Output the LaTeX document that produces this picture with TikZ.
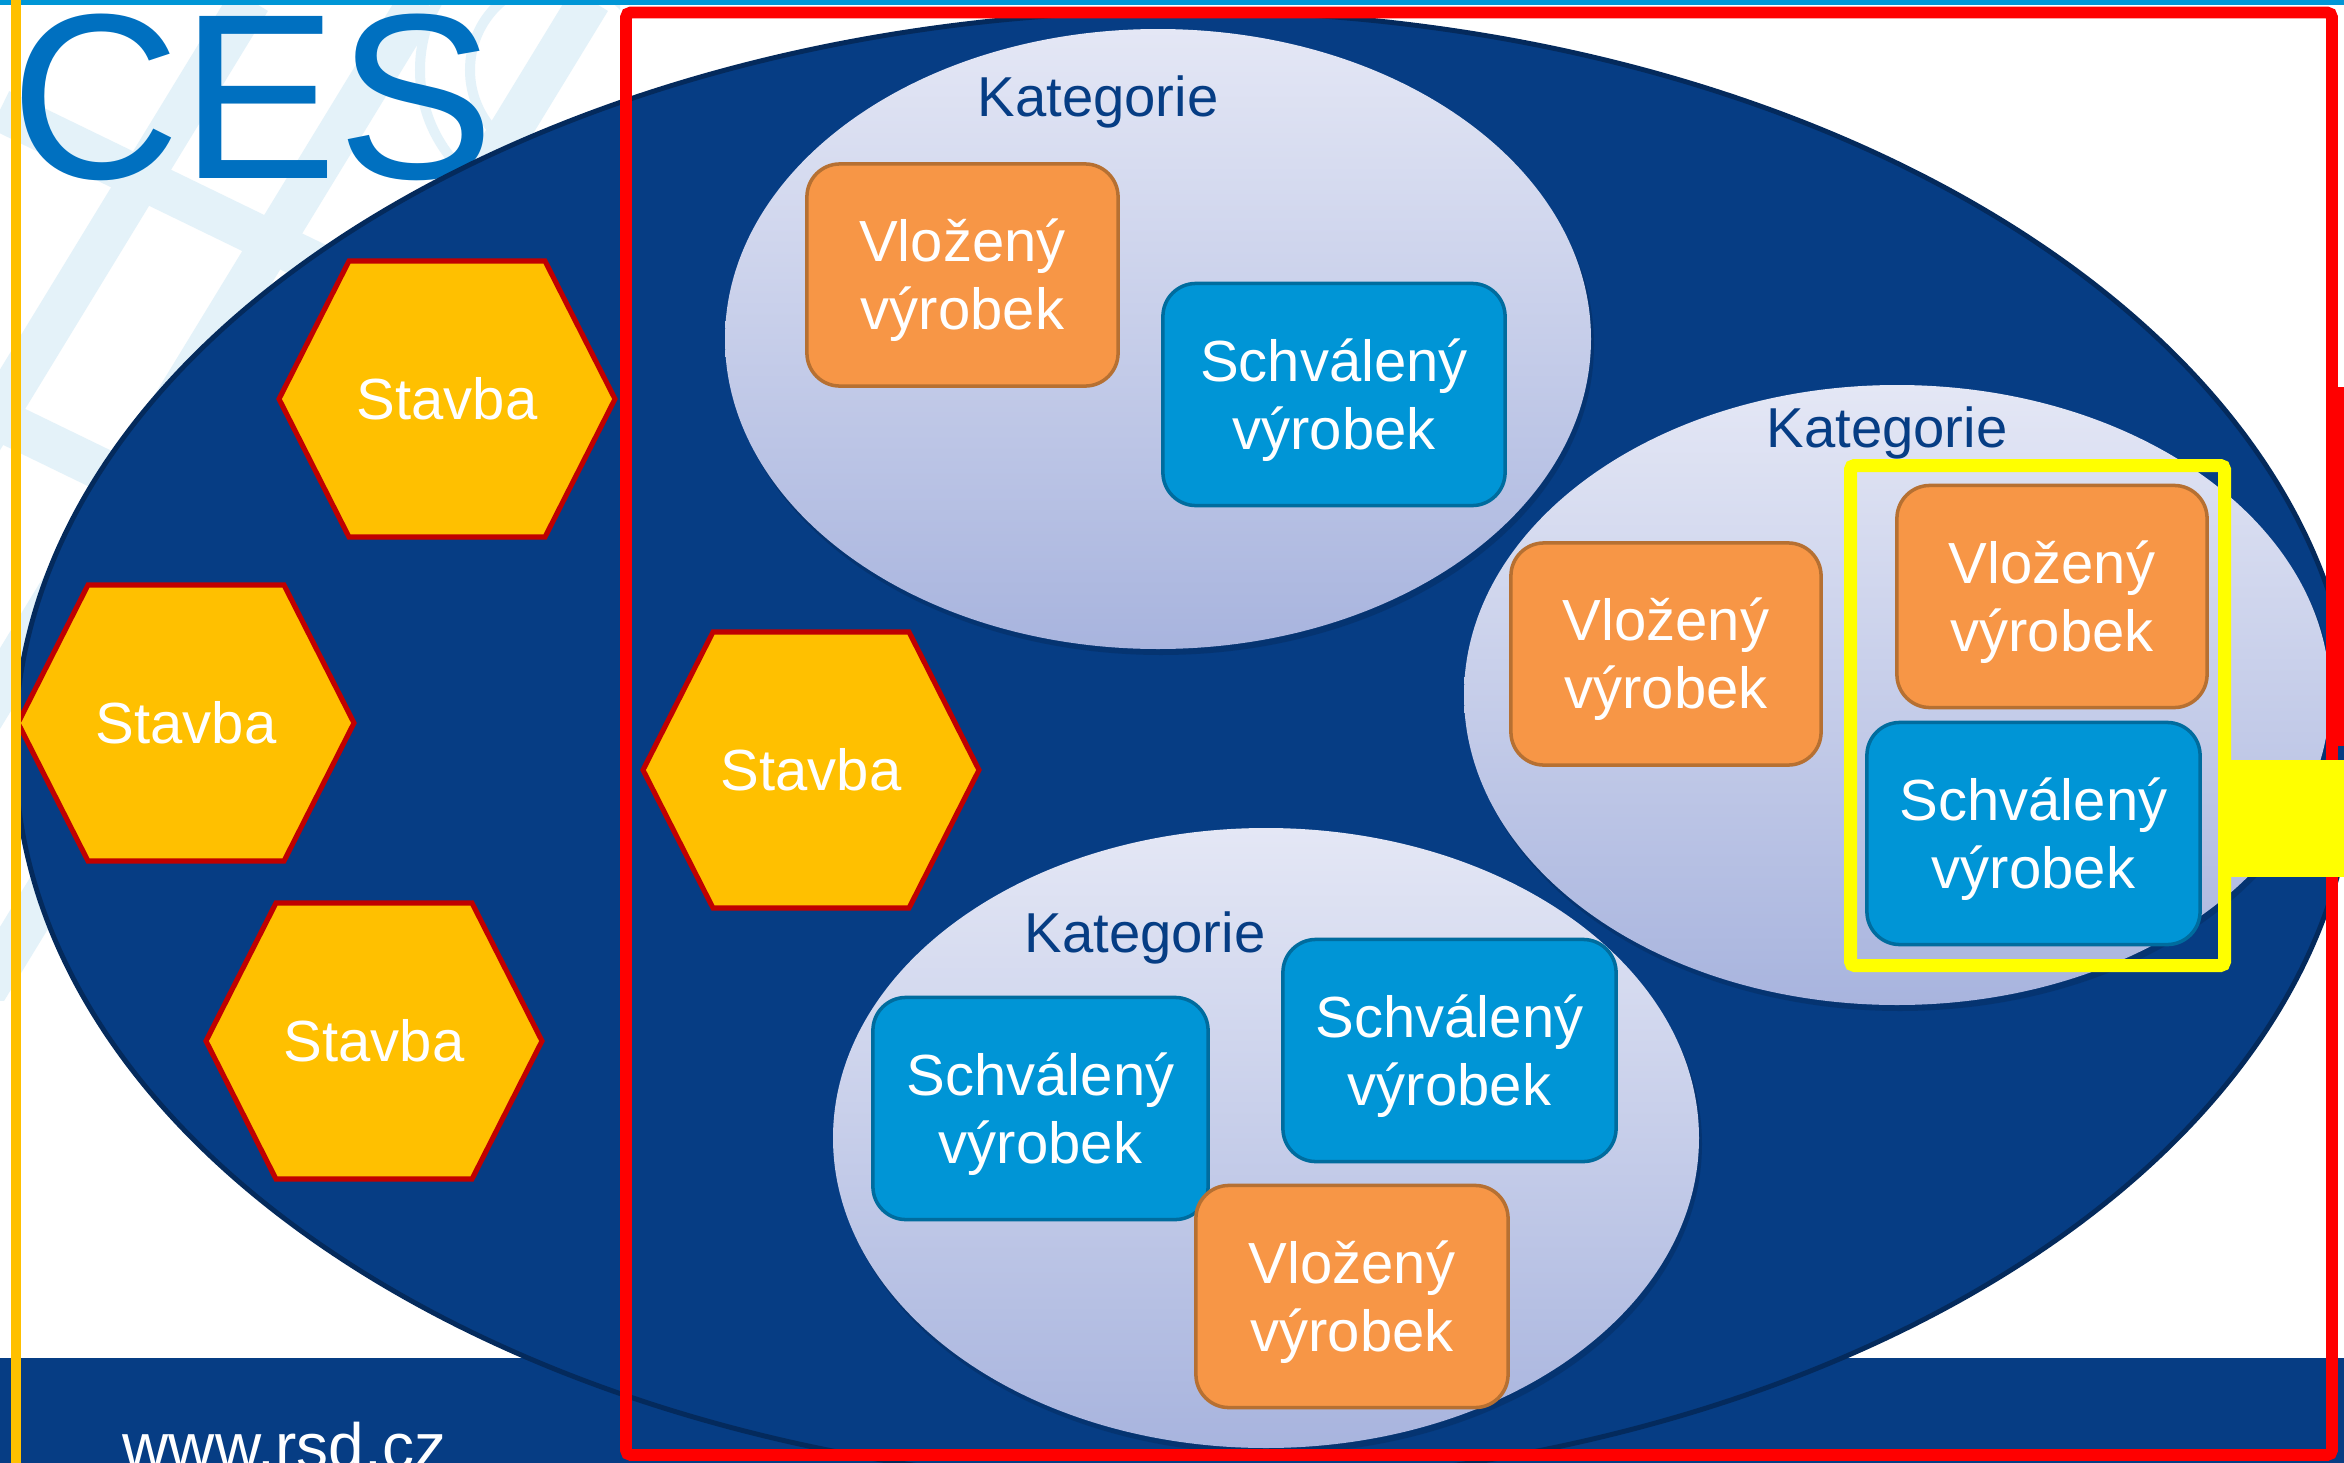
\documentclass[tikz,border=0pt]{standalone}
\usepackage{fontspec}
\setmainfont{Liberation Sans}
\definecolor{navy}{RGB}{6,61,132}
\definecolor{navyedge}{RGB}{4,42,92}
\definecolor{lgtop}{RGB}{228,231,245}
\definecolor{lgbot}{RGB}{168,180,222}
\definecolor{orfill}{RGB}{247,150,70}
\definecolor{orborder}{RGB}{182,112,50}
\definecolor{blfill}{RGB}{0,149,214}
\definecolor{blborder}{RGB}{0,108,158}
\definecolor{hexfill}{RGB}{255,192,0}
\definecolor{hexborder}{RGB}{192,0,0}
\definecolor{frameyellow}{RGB}{255,255,0}
\definecolor{leftyellow}{RGB}{255,192,0}
\definecolor{topblue}{RGB}{0,150,214}
\definecolor{cesblue}{RGB}{0,112,192}
\definecolor{wmark}{RGB}{228,242,249}
\newcommand\lblfont{\fontsize{16.5}{19.4}\selectfont}
\tikzset{
  prodbox/.style={rounded corners=0.33cm, line width=1pt, text=white, align=center,
    font=\lblfont, inner sep=0pt, minimum height=2.22cm, text height=1.095cm, text depth=0cm},
  vbox/.style={prodbox, draw=orborder, fill=orfill},
  sbox/.style={prodbox, draw=blborder, fill=blfill},
  hexline/.style={draw=hexborder, fill=hexfill, line width=1.45pt, line join=miter},
  hexlabel/.style={text=white, font=\lblfont, inner sep=0pt, text height=0.41cm, text depth=0cm},
  katlabel/.style={text=navy, font=\fontsize{16}{19}\selectfont, anchor=base, inner sep=0pt},
  wm/.style={draw=wmark, line width=0.42cm},
}
\begin{document}
\begin{tikzpicture}[x=0.01cm,y=-0.01cm]
\useasboundingbox (0,0) rectangle (2344,1463);
\clip (0,0) rectangle (2344,1463);
\fill[white] (0,0) rectangle (2344,1463);
% watermark
\begin{scope}
  \clip (0,0) rectangle (620,1000);
  \foreach \x in {250,420,590,760,930} \draw[wm] (\x,0) -- ++(-610,1000);
  \draw[wm] (0,110) -- ++(700,340);
  \draw[wm] (0,420) -- ++(700,340);
  \draw[wmark, line width=0.1cm] (560,70) circle [radius=90];
  \draw[wmark, line width=0.1cm] (560,70) circle [radius=140];
\end{scope}
\fill[topblue] (0,0) rectangle (2344,5);
\fill[navy] (0,1358) rectangle (2344,1463);
\node[anchor=base west, inner sep=0pt, text=white, font=\fontsize{18.2}{22}\selectfont] (web) at (122,1468) {www.rsd.cz};
\node[anchor=base west, inner sep=0pt, text=cesblue, font=\fontsize{67}{80}\selectfont] (title) at (10,178) {CES};
% big ellipse
\fill[navy, draw=navyedge, line width=1.4pt] (1185,748) ellipse [x radius=1170, y radius=737];
% category ellipses
\foreach \cx/\cy in {1158/339, 1897/695, 1266/1138} {
  \fill[navyedge, opacity=0.45] (\cx+3,\cy+6) ellipse [x radius=433, y radius=310];
  \shade[top color=lgtop, bottom color=lgbot] (\cx,\cy) ellipse [x radius=433, y radius=310];
}
\node[katlabel] (k1) at (1098,116) {Kategorie};
\node[katlabel] (k2) at (1887,447) {Kategorie};
\node[katlabel] (k3) at (1145,952) {Kategorie};
% hexagons
\foreach \n/\hx/\hy in {h1/447/399, h2/186/723, h3/374/1041, h4/811/770} {
  \coordinate (\n) at (\hx,\hy);
  \draw[hexline] (\n) ++(-168,0) -- ++(70,-138) -- ++(196,0) -- ++(70,138) -- ++(-70,138) -- ++(-196,0) -- cycle;
  \node[hexlabel] (\n t) at (\n) {Stavba};
}
% product boxes
\node[vbox, minimum width=3.11cm] (b1) at (962.5,275) {Vložený\\výrobek};
\node[sbox, minimum width=3.42cm] (b2) at (1334,394.5) {Schválený\\výrobek};
\node[vbox, minimum width=3.10cm] (b3) at (1666,654) {Vložený\\výrobek};
\node[vbox, minimum width=3.10cm] (b4) at (2052,596.5) {Vložený\\výrobek};
\node[sbox, minimum width=3.33cm] (b5) at (2033.5,833.5) {Schválený\\výrobek};
\node[sbox, minimum width=3.35cm] (b6) at (1040.5,1108.5) {Schválený\\výrobek};
\node[sbox, minimum width=3.33cm] (b7) at (1449.5,1050.5) {Schválený\\výrobek};
\node[vbox, minimum width=3.12cm] (b8) at (1352,1296.5) {Vložený\\výrobek};
% left yellow line
\fill[leftyellow] (11,0) rectangle (21,1463);
% red frame
\draw[red, line width=3.4pt, rounded corners=0.05cm] (626,12.5) rectangle (2332,1455);
\fill[red] (2338,387) rectangle (2344,746);
\fill[navy] (2338,746) rectangle (2344,760);
% yellow highlight
\draw[frameyellow, line width=3.7pt, rounded corners=0.04cm] (1850.5,465.5) rectangle (2224.5,965.5);
\fill[frameyellow] (2224.5,760) rectangle (2344,877);
\end{tikzpicture}
\end{document}
